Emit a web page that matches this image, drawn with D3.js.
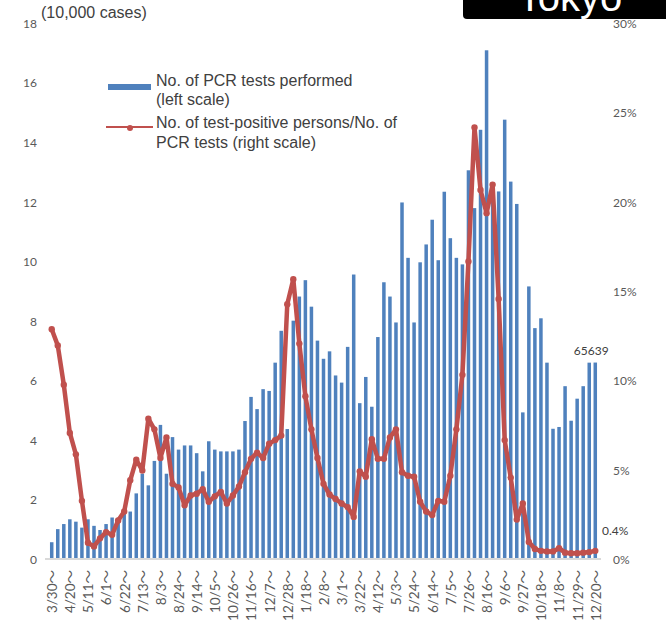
<!DOCTYPE html>
<html>
<head>
<meta charset="utf-8">
<script src="https://cdn.jsdelivr.net/npm/d3@7"></script>
<style>
  body { margin: 0; background: #fff; }
  svg { display: block; }
</style>
</head>
<body>
<svg id="chart" width="666" height="635"></svg>
<script>
// weekly figures, week of 3/30/2020 to week of 12/20/2021 //
var tickLabels = ["3/30", "4/20", "5/11", "6/1", "6/22", "7/13", "8/3", "8/24", "9/14", "10/5",
  "10/26", "11/16", "12/7", "12/28", "1/18", "2/8", "3/1", "3/22", "4/12", "5/3", "5/24",
  "6/14", "7/5", "7/26", "8/16", "9/6", "9/27", "10/18", "11/8", "11/29", "12/20"];

// No. of PCR tests performed (10,000 cases)
var tests = [0.53, 0.97, 1.14, 1.30, 1.22, 1.02, 1.30, 1.08, 0.94, 1.14,
  1.36, 1.33, 1.56, 1.56, 2.17, 2.83, 2.44, 3.26, 4.47, 2.83,
  4.06, 3.64, 3.78, 3.78, 3.52, 2.91, 3.92, 3.64, 3.58, 3.58,
  3.58, 3.64, 4.60, 5.41, 5.00, 5.67, 5.61, 6.56, 7.63, 4.33,
  7.97, 8.78, 9.33, 8.44, 7.30, 6.69, 6.94, 6.13, 5.89, 7.09,
  9.52, 5.20, 6.08, 5.08, 7.42, 9.26, 8.78, 7.91, 11.94, 10.08,
  7.91, 9.93, 10.53, 11.36, 10.00, 12.30, 10.74, 10.08, 9.86, 13.02,
  11.75, 14.38, 17.05, 12.0, 12.31, 14.72, 12.64, 11.89, 4.89, 9.12,
  7.72, 8.05, 6.56, 4.34, 4.40, 5.77, 4.61, 5.35, 5.77, 6.56, 6.5639];

// No. of test-positive persons / No. of PCR tests (%)
var positivity = [12.8, 11.9, 9.7, 7.0, 5.8, 3.2, 0.85, 0.65, 1.1, 1.45,
  1.3, 2.1, 2.6, 4.35, 5.5, 4.9, 7.8, 7.2, 5.6, 6.75,
  4.15, 3.95, 2.95, 3.5, 3.6, 3.85, 3.15, 3.45, 3.7, 3.05,
  3.5, 4.0, 4.8, 5.55, 5.9, 5.6, 6.4, 6.6, 6.85, 14.2,
  15.6, 12.0, 9.05, 7.2, 5.6, 4.15, 3.55, 3.3, 3.05, 2.85,
  2.3, 4.85, 4.55, 6.65, 5.55, 5.55, 6.75, 7.2, 4.8, 4.6,
  4.55, 3.15, 2.6, 2.4, 3.2, 3.15, 4.6, 7.2, 10.25, 16.6,
  24.1, 20.6, 19.3, 20.9, 14.5, 6.6, 4.5, 2.15, 3.05, 0.9,
  0.5, 0.4, 0.37, 0.37, 0.55, 0.3, 0.27, 0.27, 0.3, 0.33, 0.4];

var leftTicks = [0, 2, 4, 6, 8, 10, 12, 14, 16, 18];
var rightTicks = [0, 5, 10, 15, 20, 25, 30];

var blue = "#4F81BD",
  red = "#C0504D",
  grey = "#595959";

var svg = d3.select("#chart");

var x = d3.scaleBand()
  .domain(d3.range(tests.length))
  .range([48.7, 598.3])
  .paddingInner(0.42)
  .paddingOuter(0.21);

var yL = d3.scaleLinear().domain([0, 18]).range([558, 22]);
var yR = d3.scaleLinear().domain([0, 30]).range([558, 22]);

// title box (cut off at top, as in the source)
svg.append("rect")
  .attr("x", 463).attr("y", -10)
  .attr("width", 215).attr("height", 29)
  .attr("rx", 4)
  .attr("fill", "#000");

svg.append("text")
  .attr("x", 570).attr("y", 11)
  .attr("text-anchor", "middle")
  .attr("fill", "#fff")
  .style("font", "40px 'Liberation Sans', Arial, sans-serif")
  .text("Tokyo");

// bars
svg.append("g").selectAll("rect")
  .data(tests)
  .enter().append("rect")
  .attr("x", (d, i) => x(i))
  .attr("y", d => yL(d))
  .attr("width", x.bandwidth())
  .attr("height", d => yL(0) - yL(d))
  .attr("fill", blue);

// baseline
svg.append("line")
  .attr("x1", 45).attr("x2", 601)
  .attr("y1", yL(0) + 1).attr("y2", yL(0) + 1)
  .attr("stroke", "#d9d9d9")
  .attr("stroke-width", 2);

// positivity line
var line = d3.line()
  .x((d, i) => x(i) + x.bandwidth() / 2)
  .y(d => yR(d));

svg.append("path")
  .datum(positivity)
  .attr("d", line)
  .attr("fill", "none")
  .attr("stroke", red)
  .attr("stroke-width", 4.5)
  .attr("stroke-linejoin", "round")
  .attr("stroke-linecap", "round");

svg.append("g").selectAll("circle")
  .data(positivity)
  .enter().append("circle")
  .attr("cx", (d, i) => x(i) + x.bandwidth() / 2)
  .attr("cy", d => yR(d))
  .attr("r", 3.2)
  .attr("fill", red);

// left axis
var axL = svg.append("g")
  .attr("transform", "translate(37,0)")
  .call(d3.axisLeft(yL).tickValues(leftTicks).tickSize(0).tickPadding(0));
axL.select(".domain").remove();
axL.selectAll("text")
  .attr("dy", "0.45em")
  .attr("fill", grey)
  .style("font", "12px Lato, sans-serif");

// right axis
var axR = svg.append("g")
  .attr("transform", "translate(613,0)")
  .call(d3.axisRight(yR).tickValues(rightTicks).tickSize(0).tickPadding(0)
    .tickFormat(d => d + "%"));
axR.select(".domain").remove();
axR.selectAll("text")
  .attr("dy", "0.45em")
  .attr("fill", grey)
  .style("font", "12px Lato, sans-serif");

// x axis labels, every third week
var axX = svg.append("g")
  .attr("transform", "translate(0," + yL(0) + ")")
  .call(d3.axisBottom(x)
    .tickValues(d3.range(0, tests.length, 3))
    .tickFormat((d, k) => tickLabels[k] + "～")
    .tickSize(0));
axX.select(".domain").remove();
axX.selectAll("text")
  .attr("transform", "rotate(-90)")
  .attr("text-anchor", "end")
  .attr("x", -12)
  .attr("y", 0)
  .attr("dy", "0.4em")
  .attr("fill", grey)
  .style("font", "13.5px Lato, 'Noto Sans CJK JP', sans-serif");

// unit label
svg.append("text")
  .attr("x", 41).attr("y", 18)
  .attr("fill", "#404040")
  .style("font", "16px 'Liberation Sans', Arial, sans-serif")
  .text("(10,000 cases)");

// value labels
var last = tests.length - 1;
svg.append("text")
  .attr("x", x(last) + x.bandwidth() / 2 - 4)
  .attr("y", yL(tests[last]) - 8)
  .attr("text-anchor", "middle")
  .attr("fill", "#404040")
  .style("font", "12px Lato, sans-serif")
  .text(Math.round(tests[last] * 10000));

svg.append("text")
  .attr("x", 602)
  .attr("y", yR(positivity[last]) - 16)
  .attr("fill", "#404040")
  .style("font", "12px Lato, sans-serif")
  .text(positivity[last] + "%");

// legend
var legend = svg.append("g")
  .style("font", "16px 'Liberation Sans', Arial, sans-serif")
  .attr("fill", "#404040");

legend.append("rect")
  .attr("x", 108).attr("y", 84)
  .attr("width", 43).attr("height", 6)
  .attr("fill", blue);

legend.append("line")
  .attr("x1", 106).attr("x2", 153)
  .attr("y1", 127).attr("y2", 127)
  .attr("stroke", red)
  .attr("stroke-width", 2);

legend.append("circle")
  .attr("cx", 130).attr("cy", 128)
  .attr("r", 3)
  .attr("fill", red);

var legendLines = [
  ["No. of PCR tests performed", 86],
  ["(left scale)", 105],
  ["No. of test-positive persons/No. of", 128],
  ["PCR tests (right scale)", 148]
];

legend.selectAll("text")
  .data(legendLines)
  .enter().append("text")
  .attr("x", 156)
  .attr("y", d => d[1])
  .text(d => d[0]);
</script>
</body>
</html>
